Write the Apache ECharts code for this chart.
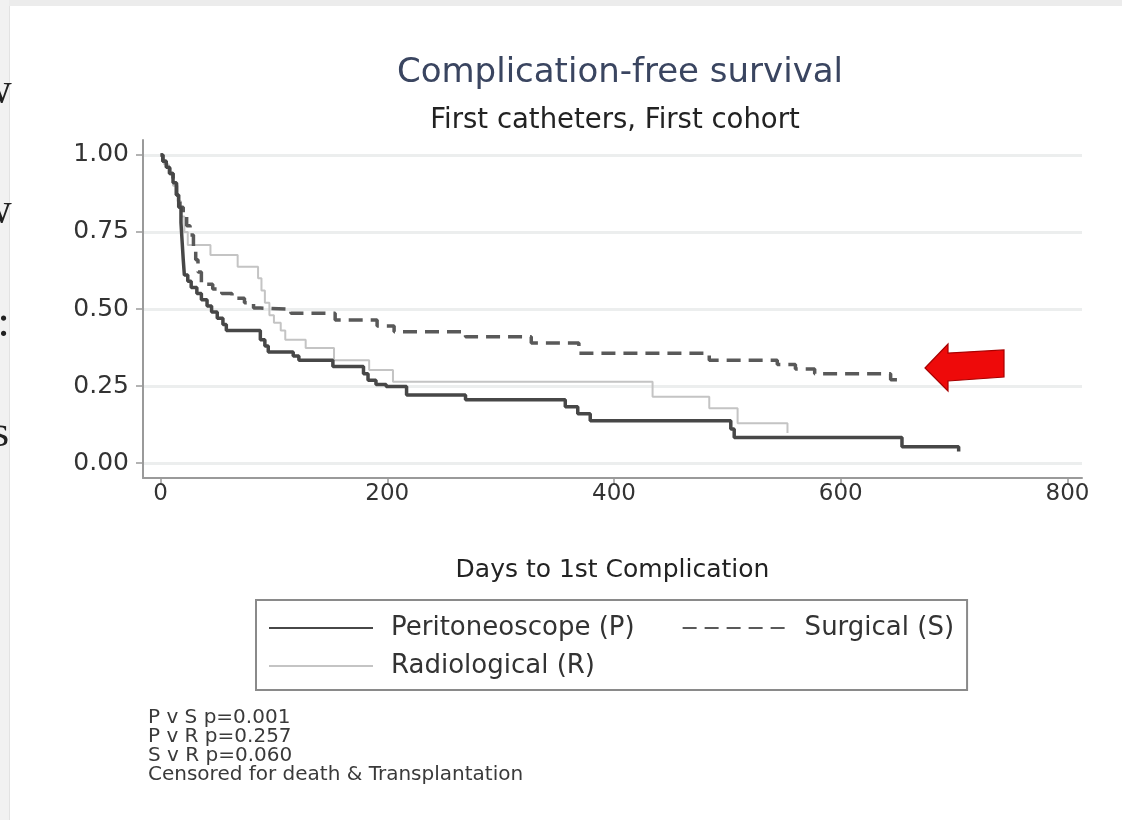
<!DOCTYPE html>
<html>
<head>
<meta charset="utf-8">
<script src="https://cdn.jsdelivr.net/npm/echarts@6/dist/echarts.min.js"></script>
<style>
html,body{margin:0;padding:0;background:#fff;}
#chart{width:1122px;height:820px;}
</style>
</head>
<body>
<div id="chart"></div>
<script>
// ---- data ----
const seriesNames = ['Peritoneoscope (P)', 'Surgical (S)', 'Radiological (R)'];

const pDays = [0, 2, 5, 8, 11, 14, 16, 18, 19, 20, 21, 24, 27, 32, 36, 41, 45, 50, 55, 58, 88, 92, 95, 117, 122, 152, 179, 183, 190, 199, 217, 269, 357, 368, 379, 503, 506, 654, 704];
const pSurv = [1.0, 0.98, 0.96, 0.94, 0.91, 0.87, 0.83, 0.78, 0.72, 0.66, 0.61, 0.59, 0.57, 0.55, 0.53, 0.51, 0.49, 0.47, 0.45, 0.43, 0.40, 0.38, 0.36, 0.347, 0.334, 0.313, 0.29, 0.269, 0.255, 0.248, 0.221, 0.205, 0.183, 0.16, 0.137, 0.11, 0.083, 0.053, 0.037];

const sDays = [0, 2, 5, 8, 11, 14, 17, 20, 23, 26, 29, 31, 33, 36, 46, 54, 63, 74, 82, 88, 115, 154, 191, 206, 269, 327, 369, 484, 544, 560, 577, 644, 653];
const sSurv = [1.0, 0.98, 0.96, 0.94, 0.91, 0.87, 0.83, 0.80, 0.77, 0.74, 0.70, 0.66, 0.62, 0.58, 0.565, 0.55, 0.535, 0.52, 0.503, 0.499, 0.486, 0.464, 0.445, 0.426, 0.41, 0.39, 0.356, 0.334, 0.32, 0.305, 0.29, 0.27, 0.27];

const rDays = [0, 3, 7, 11, 15, 18, 21, 24, 44, 68, 86, 89, 92, 96, 100, 106, 110, 128, 153, 184, 205, 434, 484, 509, 553];
const rSurv = [1.0, 0.97, 0.94, 0.90, 0.85, 0.80, 0.75, 0.708, 0.675, 0.637, 0.60, 0.56, 0.52, 0.48, 0.455, 0.43, 0.40, 0.373, 0.334, 0.302, 0.264, 0.215, 0.178, 0.129, 0.097];

const xTicks = [0, 200, 400, 600, 800];
const yTicks = [0, 0.25, 0.5, 0.75, 1.0];

const titleText = 'Complication-free survival';
const subtitleText = 'First catheters, First cohort';
const xAxisTitle = 'Days to 1st Complication';
const footnotes = ['P v S p=0.001', 'P v R p=0.257', 'S v R p=0.060', 'Censored for death & Transplantation'];
const slideFragments = ['w', 'w', 'e:', 's'];

// ---- build ----
function pairs(xs, ys) { return xs.map((x, i) => [x, ys[i]]); }
const FONT = '"DejaVu Sans", Verdana, sans-serif';

const chart = echarts.init(document.getElementById('chart'), null, {renderer: 'canvas'});

const fragTop = [69, 189, 302, 412];
const fragX = [-20, -20, -22, -8];
const graphics = [
  {type: 'rect', shape: {x: 0, y: 0, width: 1122, height: 6}, style: {fill: '#ececec'}, silent: true},
  {type: 'rect', shape: {x: 0, y: 0, width: 9, height: 820}, style: {fill: '#f1f1f1'}, silent: true},
  {type: 'rect', shape: {x: 9, y: 6, width: 1, height: 814}, style: {fill: '#e2e2e2'}, silent: true},
  // red annotation arrow pointing at the Surgical curve
  {type: 'polygon', silent: true, z: 100,
   shape: {points: [[925, 368], [948, 344], [948, 353], [1004, 350], [1004, 377], [948, 381], [948, 391]]},
   style: {fill: '#ee0a0a', stroke: '#a80000', lineWidth: 1.2}}
];
slideFragments.forEach((t, i) => {
  graphics.push({type: 'text', x: fragX[i], y: fragTop[i], silent: true,
    style: {text: t, font: '44px "Liberation Serif", serif', fill: '#222', verticalAlign: 'top'}});
});
footnotes.forEach((t, i) => {
  graphics.push({type: 'text', x: 148, y: 708 + i * 19, silent: true,
    style: {text: t, font: '20px ' + FONT, fill: '#3a3a3a', verticalAlign: 'top'}});
});

const option = {
  backgroundColor: '#ffffff',
  animation: false,
  title: [
    {text: titleText, left: 615, top: 51, textAlign: 'center',
     textStyle: {fontFamily: FONT, fontSize: 34, fontWeight: 'normal', color: '#3a4560'}},
    {text: subtitleText, left: 610, top: 102, textAlign: 'center',
     textStyle: {fontFamily: FONT, fontSize: 27.5, fontWeight: 'normal', color: '#222'}}
  ],
  grid: {left: 143, right: 40, top: 140, bottom: 342, containLabel: false},
  xAxis: {
    type: 'value', min: -15.5, max: 812.8,
    name: xAxisTitle, nameLocation: 'middle', nameGap: 80,
    nameTextStyle: {fontFamily: FONT, fontSize: 25, color: '#222'},
    axisLine: {show: true, onZero: false, lineStyle: {color: '#9a9a9a', width: 2}},
    axisTick: {show: true, length: 7, lineStyle: {color: '#9a9a9a', width: 1.5}, customValues: xTicks},
    axisLabel: {fontFamily: FONT, fontSize: 23, color: '#333', margin: 5, customValues: xTicks},
    splitLine: {show: false}
  },
  yAxis: {
    type: 'value', min: -0.0487, max: 1.0487,
    axisLine: {show: true, onZero: false, lineStyle: {color: '#9a9a9a', width: 2}},
    axisTick: {show: true, length: 7, lineStyle: {color: '#9a9a9a', width: 1.5}, customValues: yTicks},
    axisLabel: {fontFamily: FONT, fontSize: 25, color: '#333', margin: 14, customValues: yTicks,
      formatter: v => v.toFixed(2)},
    splitLine: {show: true, lineStyle: {color: '#eceeee', width: 3}}
  },
  legend: [
    {data: [seriesNames[0], seriesNames[1]], left: 256, top: 600, orient: 'horizontal',
     itemWidth: 104, itemHeight: 14, itemGap: 47,
     padding: [15, 13, 49, 12], borderColor: '#8a8a8a', borderWidth: 2,
     itemStyle: {opacity: 0},
     textStyle: {fontFamily: FONT, fontSize: 26, color: '#333', padding: [0, 0, 0, 13]}},
    {data: [seriesNames[2]], left: 268, top: 653, orient: 'horizontal',
     itemWidth: 104, itemHeight: 14, padding: 0,
     itemStyle: {opacity: 0},
     textStyle: {fontFamily: FONT, fontSize: 26, color: '#333', padding: [0, 0, 0, 13]}}
  ],
  series: [
    {name: seriesNames[2], type: 'line', step: 'end', symbol: 'none', data: pairs(rDays, rSurv),
     lineStyle: {color: '#c4c4c4', width: 2}, itemStyle: {color: '#c4c4c4'}, z: 1},
    {name: seriesNames[1], type: 'line', step: 'end', symbol: 'none', data: pairs(sDays, sSurv),
     lineStyle: {color: '#595959', width: 3.5, type: [14, 8]}, itemStyle: {color: '#595959'}, z: 2},
    {name: seriesNames[0], type: 'line', step: 'end', symbol: 'none', data: pairs(pDays, pSurv),
     lineStyle: {color: '#474747', width: 3.5}, itemStyle: {color: '#474747'}, z: 3}
  ],
  graphic: graphics
};
chart.setOption(option);
</script>
</body>
</html>
